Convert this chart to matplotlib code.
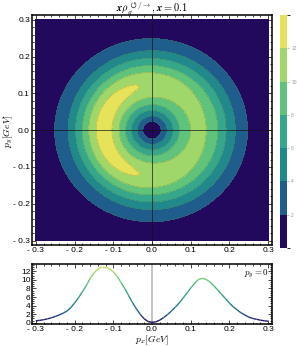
import numpy as np
import matplotlib
matplotlib.use("Agg")
import matplotlib.pyplot as plt
from matplotlib.colors import ListedColormap, BoundaryNorm, LinearSegmentedColormap
from matplotlib.collections import LineCollection
from matplotlib.ticker import MultipleLocator

plt.rcParams["mathtext.fontset"] = "cm"
plt.rcParams["font.family"] = "Liberation Sans"

r_prof = np.round(np.arange(0, 0.3001, 0.01), 2)
ring_left = [0.10, 0.5, 1.5, 2.8, 4.2, 5.5, 6.9, 8.2, 9.4, 10.6, 11.7, 12.55, 12.95, 12.9,
             12.35, 11.5, 10.4, 9.2, 8.0, 6.8, 5.7, 4.6, 3.7, 3.0, 2.45, 2.05, 1.7, 1.4,
             1.15, 0.9, 0.75]
ring_right = [0.10, 0.45, 1.5, 2.8, 4.1, 5.4, 6.7, 7.9, 8.8, 9.5, 10.0, 10.25, 10.35, 10.3,
              10.0, 9.55, 8.9, 8.0, 7.0, 6.1, 5.3, 4.4, 3.6, 2.9, 2.3, 1.85, 1.5, 1.2,
              0.95, 0.75, 0.6]

# lower panel curve at p_y = 0 (left: px = 0 .. -0.30, right: px = 0 .. 0.30)
cut_left = [0.10, 0.25, 0.9, 1.9, 3.2, 4.6, 6.3, 7.9, 9.4, 10.8, 11.9, 12.6, 13.0, 13.0,
            12.5, 11.6, 10.3, 8.6, 7.2, 5.8, 4.6, 3.5, 2.7, 2.2, 1.8, 1.45, 1.15, 0.9,
            0.7, 0.55, 0.45]
cut_right = [0.10, 0.2, 0.6, 1.2, 1.9, 2.7, 3.6, 4.6, 5.7, 6.9, 8.1, 9.2, 10.1, 10.35,
             10.1, 9.5, 8.6, 7.6, 6.6, 5.6, 4.6, 3.7, 3.0, 2.3, 1.8, 1.3, 1.0, 0.8,
             0.6, 0.45, 0.35]
px = np.concatenate([-r_prof[::-1], r_prof[1:]])
cut = np.array(cut_left[::-1] + cut_right[1:])

levels = [0, 2, 4, 6, 8, 10, 12, 14]
band_colors = ["#22095e", "#1f5d8c", "#21898c", "#36a78a", "#5fc37c", "#a0d76a", "#e6e35a"]
cbar_ticks = [2, 4, 6, 8, 10, 12]
tick_vals = [-0.3, -0.2, -0.1, 0.0, 0.1, 0.2, 0.3]
tick_labels = ["- 0.3", "- 0.2", "- 0.1", "0.0", "0.1", "0.2", "0.3"]

# 2D field: blend the left and right radial profiles with the azimuth
L = np.array(ring_left)
R = np.array(ring_right)
g = np.linspace(-0.3, 0.3, 401)
X, Y = np.meshgrid(g, g)
Rad = np.hypot(X, Y)
cphi = np.where(Rad > 0, X / np.maximum(Rad, 1e-9), 0)
Lr = np.interp(Rad, r_prof, L, right=L[-1])
Rr = np.interp(Rad, r_prof, R, right=R[-1])
Z = Lr * (1 - cphi) / 2 + Rr * (1 + cphi) / 2

cmap = ListedColormap(band_colors)
norm = BoundaryNorm(levels, cmap.N)
cont_cmap = LinearSegmentedColormap.from_list("v", band_colors)

fig = plt.figure(figsize=(2.97, 3.46), dpi=100)
ax = fig.add_axes([32 / 297, 101 / 346, 240 / 297, 230 / 346])
cax = fig.add_axes([280 / 297, 98 / 346, 7 / 297, 233 / 346])
ax2 = fig.add_axes([32 / 297, 22 / 346, 240 / 297, 60 / 346])

cs = ax.contourf(X, Y, Z, levels=levels, cmap=cmap, norm=norm)
ax.contour(X, Y, Z, levels=levels[1:-1], colors="#6a6a30", linewidths=0.35, alpha=0.45)
ax.axhline(0, color="#111111", lw=0.6, alpha=0.8)
ax.axvline(0, color="#111111", lw=0.6, alpha=0.8)
ax.set_xlim(-0.31, 0.31)
ax.set_ylim(-0.312, 0.313)
ax.set_xticks(tick_vals)
ax.set_xticklabels(tick_labels)
ax.set_yticks(tick_vals)
ax.set_yticklabels(tick_labels)
ax.xaxis.set_minor_locator(MultipleLocator(0.02))
ax.yaxis.set_minor_locator(MultipleLocator(0.02))

fig.text(152 / 297, 1 - 8 / 346, r"$\boldsymbol{x\rho_g^{\circlearrowleft/\rightarrow}, x = 0.1}$",
         ha="center", va="center", fontsize=7.5)
fig.text(8 / 297, 1 - 131 / 346, r"$\boldsymbol{p_y}[GeV]$", rotation=90,
         ha="center", va="center", fontsize=7)
fig.text(152 / 297, 1 - 340 / 346, r"$\boldsymbol{p_x}[GeV]$",
         ha="center", va="center", fontsize=7)

cb = fig.colorbar(cs, cax=cax, ticks=cbar_ticks)
cb.outline.set_visible(False)
cax.tick_params(labelsize=3.5, colors="#999999", length=1.5, width=0.4, pad=1.5)

# lower panel: cut at p_y = 0, coloured by value
pts = np.column_stack([px, cut]).reshape(-1, 1, 2)
segs = np.concatenate([pts[:-1], pts[1:]], axis=1)
lc = LineCollection(segs, cmap=cont_cmap, norm=plt.Normalize(0, 14), linewidths=1.0)
lc.set_array((cut[:-1] + cut[1:]) / 2)
ax2.axvline(0, color="#c4c4c4", lw=1.4)
ax2.add_collection(lc)
ax2.set_xlim(-0.31, 0.31)
ax2.set_ylim(-0.3, 13.7)
ax2.set_xticks(tick_vals)
ax2.set_xticklabels(tick_labels)
ax2.set_yticks([0, 2, 4, 6, 8, 10, 12])
ax2.xaxis.set_minor_locator(MultipleLocator(0.02))
ax2.yaxis.set_minor_locator(MultipleLocator(0.5))
ax2.text(0.985, 0.93, r"$\boldsymbol{p_y = 0}$", transform=ax2.transAxes,
         ha="right", va="top", fontsize=6.5)

for a in (ax, ax2):
    a.tick_params(which="both", direction="in", top=True, right=True,
                  labelsize=6, pad=1.5, width=0.5)
    a.tick_params(which="major", length=3)
    a.tick_params(which="minor", length=1.5)
    for s in a.spines.values():
        s.set_linewidth(1.1)
ax2.tick_params(axis="y", labelsize=6, pad=1)

fig.savefig("out.png", dpi=100)
